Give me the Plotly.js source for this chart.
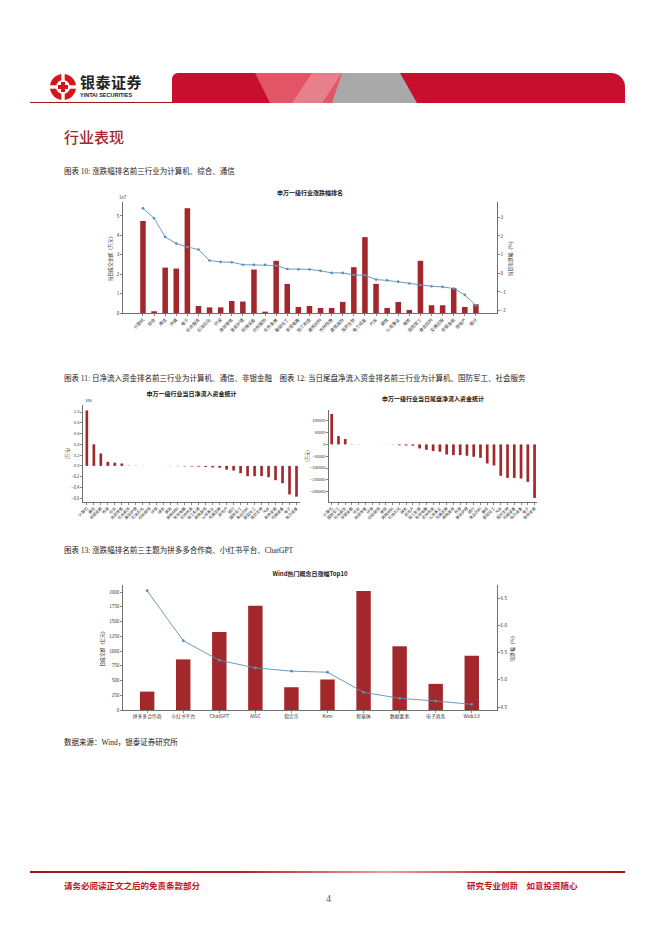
<!DOCTYPE html>
<html><head><meta charset="utf-8">
<script src="https://cdn.plot.ly/plotly-3.0.1.min.js"></script>
<style>
body{margin:0;width:662px;height:936px;position:relative;background:#fff;overflow:hidden;font-family:"Noto Sans CJK SC",sans-serif;}
.abs{position:absolute;}
.cap{position:absolute;font-family:"Liberation Serif","Noto Sans CJK SC",serif;font-size:7.5px;color:#222;white-space:nowrap;}
.chart{position:absolute;}
</style></head>
<body>
<!-- header -->
<svg class="abs" style="left:49px;top:72px" width="28" height="30" viewBox="0 0 28 30">
  <circle cx="14" cy="15" r="13" fill="#d7141a"/>
  <rect x="12.3" y="0" width="3.4" height="30" fill="#fff"/>
  <rect x="0" y="13.3" width="28" height="3.4" fill="#fff"/>
  <circle cx="14" cy="15" r="7" fill="#fff"/>
  <rect x="12" y="10" width="4" height="10" fill="#d7141a"/>
  <rect x="9" y="13" width="10" height="4" fill="#d7141a"/>
</svg>
<div class="abs" style="left:80px;top:71px;font-size:15px;font-weight:bold;color:#222;letter-spacing:0.5px">银泰证券</div>
<div class="abs" style="left:80px;top:92px;font-size:5.5px;font-weight:bold;color:#222;font-family:'Liberation Sans',sans-serif">YINTAI SECURITIES</div>
<div class="abs" style="left:30px;top:102px;width:145px;height:1px;background:#9b1b1b"></div>
<div class="abs" style="left:172px;top:73px;width:453px;height:30px;background:#c8102e;border-radius:6px 14px 0 0;overflow:hidden">
  <div class="abs" style="left:0;top:0;width:453px;height:30px;background:rgba(255,170,170,0.45);clip-path:polygon(83px 0,170px 0,180px 30px,98px 30px)"></div>
  <div class="abs" style="left:0;top:0;width:453px;height:30px;background:#a9a9a9;clip-path:polygon(170px 0,228px 0,245px 30px,160px 30px)"></div>
  <div class="abs" style="left:0;top:0;width:453px;height:30px;background:rgba(255,255,255,0.25);clip-path:polygon(140px 0,170px 0,150px 30px,120px 30px)"></div>
</div>

<div class="abs" style="left:64px;top:126px;font-size:15px;color:#a8262b;font-weight:500">行业表现</div>

<div class="cap" style="left:64px;top:165px">图表 10: 涨跌幅排名前三行业为计算机、综合、通信</div>
<div class="cap" style="left:64px;top:372px">图表 11: 日净流入资金排名前三行业为计算机、通信、非银金融　图表 12: 当日尾盘净流入资金排名前三行业为计算机、国防军工、社会服务</div>
<div class="cap" style="left:64px;top:544px">图表 13: 涨跌幅排名前三主题为拼多多合作商、小红书平台、ChatGPT</div>
<div class="cap" style="left:64px;top:736px">数据来源：Wind，银泰证券研究所</div>

<div id="c1" class="chart" style="left:75px;top:180px;width:450px;height:163px"></div>
<div id="c2" class="chart" style="left:60px;top:385px;width:245px;height:150px"></div>
<div id="c3" class="chart" style="left:300px;top:385px;width:245px;height:150px"></div>
<div id="c4" class="chart" style="left:75px;top:555px;width:460px;height:175px"></div>

<!-- footer -->
<div class="abs" style="left:30px;top:871px;width:595px;height:2px;background:linear-gradient(to right,#a31515,#b52020 35%,#e9a0a0 60%,#c42a2a 80%,#b01414)"></div>
<div class="abs" style="left:64px;top:879px;font-size:8.5px;font-weight:bold;color:#c0141c">请务必阅读正文之后的免责条款部分</div>
<div class="abs" style="left:467px;top:879px;font-size:8.5px;font-weight:bold;color:#c0141c;white-space:nowrap">研究专业创新　如意投资随心</div>
<div class="abs" style="left:326px;top:893px;font-size:10px;color:#555;font-family:'Liberation Serif',serif">4</div>

<script>
// ---------- data ----------
const ind1 = ["计算机","综合","通信","传媒","电子","社会服务","石油石化","环保","商贸零售","美容护理","机械设备","纺织服饰","有色金属","基础化工","家用电器","轻工制造","建筑材料","农林牧渔","建筑装饰","医药生物","电力设备","汽车","钢铁","公用事业","煤炭","国防军工","食品饮料","交通运输","非银金融","房地产","银行"];
const amt1 = [4.74,0.09,2.34,2.29,5.40,0.36,0.29,0.29,0.62,0.59,2.24,0.07,2.69,1.50,0.31,0.36,0.26,0.26,0.57,2.36,3.91,1.50,0.26,0.57,0.16,2.69,0.40,0.40,1.28,0.31,0.45];
const chg1 = [3.48,2.95,1.95,1.59,1.41,1.27,0.68,0.61,0.59,0.46,0.45,0.45,0.41,0.23,0.21,0.21,0.13,0.02,0.02,-0.09,-0.11,-0.34,-0.38,-0.45,-0.55,-0.63,-0.70,-0.73,-0.82,-1.16,-1.73];

const ind2 = ["计算机","通信","非银金融","传媒","综合","商贸零售","社会服务","美容护理","石油石化","纺织服饰","环保","煤炭","钢铁","建筑材料","家用电器","农林牧渔","轻工制造","建筑装饰","公用事业","交通运输","房地产","银行","国防军工","食品饮料","基础化工","医药生物","汽车","有色金属","机械设备","电子","电力设备"];
const flow2 = [1.03,0.40,0.23,0.075,0.06,0.045,0.006,0.004,0.002,0.001,0.0005,-0.001,-0.003,-0.005,-0.008,-0.011,-0.014,-0.02,-0.028,-0.035,-0.07,-0.085,-0.135,-0.19,-0.19,-0.19,-0.21,-0.265,-0.32,-0.53,-0.57];

const ind3 = ["计算机","国防军工","社会服务","非银金融","综合","商贸零售","环保","纺织服饰","钢铁","建筑材料","石油石化","煤炭","房地产","轻工制造","家用电器","农林牧渔","公用事业","交通运输","建筑装饰","传媒","美容护理","银行","食品饮料","通信","基础化工","汽车","医药生物","机械设备","电力设备","电子","有色金属"];
const flow3 = [128900,35400,22700,1200,400,150,-150,-300,-400,-700,-3500,-4500,-5500,-17000,-22700,-28300,-31000,-42500,-45300,-45300,-48000,-52400,-56700,-80700,-89200,-133000,-141600,-141600,-144500,-158600,-226600];

const concepts = ["拼多多合作商","小红书平台","ChatGPT","AIGC","稳定币","Kimi","智能体","数据要素","电子商务","Web3.0"];
const amt4 = [312,858,1324,1767,386,517,2017,1080,443,920];
const chg4 = [6.64,5.72,5.36,5.22,5.16,5.14,4.77,4.66,4.61,4.55];

// ---------- style ----------
const FONT = "Noto Sans CJK SC, DejaVu Sans, sans-serif";
const BAR = "#a3282c";
const LINE = "#5b8fba";
const axisBase = {showline:true,linecolor:"#333",linewidth:0.7,ticks:"outside",ticklen:2,tickwidth:0.6,tickcolor:"#333",showgrid:false,zeroline:false,automargin:false,tickfont:{size:4.6,family:FONT,color:"#333"}};
function ax(extra){return Object.assign({},JSON.parse(JSON.stringify(axisBase)),extra);}
const cfg = {staticPlot:true,displayModeBar:false};
function titleObj(txt,y){return {text:txt,x:0.5,xref:"paper",xanchor:"center",y:y,yanchor:"middle",font:{size:6,family:FONT,color:"#222",weight:"bold"}};}

// Chart 1
Plotly.newPlot("c1",[
  {type:"bar",x:ind1,y:amt1,marker:{color:BAR},width:0.5,yaxis:"y",hoverinfo:"skip"},
  {type:"scatter",mode:"lines+markers",x:ind1,y:chg1,yaxis:"y2",line:{color:LINE,width:0.9},marker:{color:LINE,size:2.6},hoverinfo:"skip"}
],{
  width:450,height:163,margin:{l:48,r:28,t:22,b:30},showlegend:false,
  paper_bgcolor:"rgba(0,0,0,0)",plot_bgcolor:"rgba(0,0,0,0)",
  font:{family:FONT,size:5,color:"#333"},
  title:titleObj("申万一级行业涨跌幅排名",0.922),
  bargap:0.5,
  xaxis:ax({type:"category",range:[-1.8,31.9],tickangle:-45,tickfont:{size:4.3,family:FONT,color:"#333"}}),
  yaxis:ax({range:[0,5.72],tickvals:[0,1,2,3,4,5],title:{text:"当日成交金额（万元）",font:{size:4.8,family:FONT},standoff:3}}),
  yaxis2:ax({overlaying:"y",side:"right",anchor:"x",range:[-2.13,3.82],tickvals:[-2,-1,0,1,2,3],ticktext:["−2","−1","0","1","2","3"],title:{text:"当日涨跌幅（%）",font:{size:4.8,family:FONT},standoff:3}}),
  annotations:[{text:"1e7",xref:"paper",yref:"paper",x:0,y:1,xanchor:"center",yanchor:"bottom",showarrow:false,font:{size:4.3,family:FONT,color:"#333"}}]
},cfg);

// Chart 2
Plotly.newPlot("c2",[
  {type:"bar",x:ind2,y:flow2,marker:{color:BAR},width:0.38,hoverinfo:"skip"}
],{
  width:245,height:150,margin:{l:23,r:5,t:20,b:33},showlegend:false,
  paper_bgcolor:"rgba(0,0,0,0)",plot_bgcolor:"rgba(0,0,0,0)",
  font:{family:FONT,size:5,color:"#333"},
  title:titleObj("申万一级行业当日净流入资金统计",0.94),
  xaxis:ax({type:"category",range:[-0.55,30.5],tickangle:-45,tickfont:{size:3.9,family:FONT,color:"#333"}}),
  yaxis:ax({range:[-0.67,1.13],tickvals:[-0.6,-0.4,-0.2,0,0.2,0.4,0.6,0.8,1.0],ticktext:["−0.6","−0.4","−0.2","0.0","0.2","0.4","0.6","0.8","1.0"],tickfont:{size:4.2,family:FONT,color:"#333"},title:{text:"(万元)",font:{size:4.5,family:FONT},standoff:1}}),
  annotations:[{text:"1e6",xref:"paper",yref:"paper",x:0,y:1,xanchor:"left",yanchor:"bottom",showarrow:false,font:{size:4,family:FONT,color:"#333"}}]
},cfg);

// Chart 3
Plotly.newPlot("c3",[
  {type:"bar",x:ind3,y:flow3,marker:{color:BAR},width:0.4,hoverinfo:"skip"}
],{
  width:245,height:150,margin:{l:29,r:8,t:25,b:33},showlegend:false,
  paper_bgcolor:"rgba(0,0,0,0)",plot_bgcolor:"rgba(0,0,0,0)",
  font:{family:FONT,size:5,color:"#333"},
  title:titleObj("申万一级行业当日尾盘净流入资金统计",0.907),
  xaxis:ax({type:"category",range:[-0.4,30.36],tickangle:-45,tickfont:{size:3.9,family:FONT,color:"#333"}}),
  yaxis:ax({range:[-243800,145700],tickvals:[-200000,-150000,-100000,-50000,0,50000,100000],ticktext:["−200000","−150000","−100000","−50000","0","50000","100000"],tickfont:{size:4,family:FONT,color:"#333"},title:{text:"(万元)",font:{size:4.5,family:FONT},standoff:0}})
},cfg);

// Chart 4
Plotly.newPlot("c4",[
  {type:"bar",x:concepts,y:amt4,marker:{color:BAR},width:0.4,yaxis:"y",hoverinfo:"skip"},
  {type:"scatter",mode:"lines+markers",x:concepts,y:chg4,yaxis:"y2",line:{color:LINE,width:0.9},marker:{color:LINE,size:2.8},hoverinfo:"skip"}
],{
  width:460,height:175,margin:{l:48,r:38,t:30,b:20},showlegend:false,
  paper_bgcolor:"rgba(0,0,0,0)",plot_bgcolor:"rgba(0,0,0,0)",
  font:{family:FONT,size:5,color:"#333"},
  title:titleObj("Wind热门概念日涨幅Top10",0.891),
  xaxis:ax({type:"category",range:[-0.67,9.7],tickangle:0,tickfont:{size:4.8,family:FONT,color:"#333"}}),
  yaxis:ax({range:[0,2119],tickvals:[0,250,500,750,1000,1250,1500,1750,2000],title:{text:"日成交额（亿元）",font:{size:4.8,family:FONT},standoff:4}}),
  yaxis2:ax({overlaying:"y",side:"right",anchor:"x",range:[4.445,6.745],tickvals:[4.5,5.0,5.5,6.0,6.5],ticktext:["4.5","5.0","5.5","6.0","6.5"],title:{text:"涨跌幅（%）",font:{size:4.8,family:FONT},standoff:4}})
},cfg);
</script>
</body></html>
